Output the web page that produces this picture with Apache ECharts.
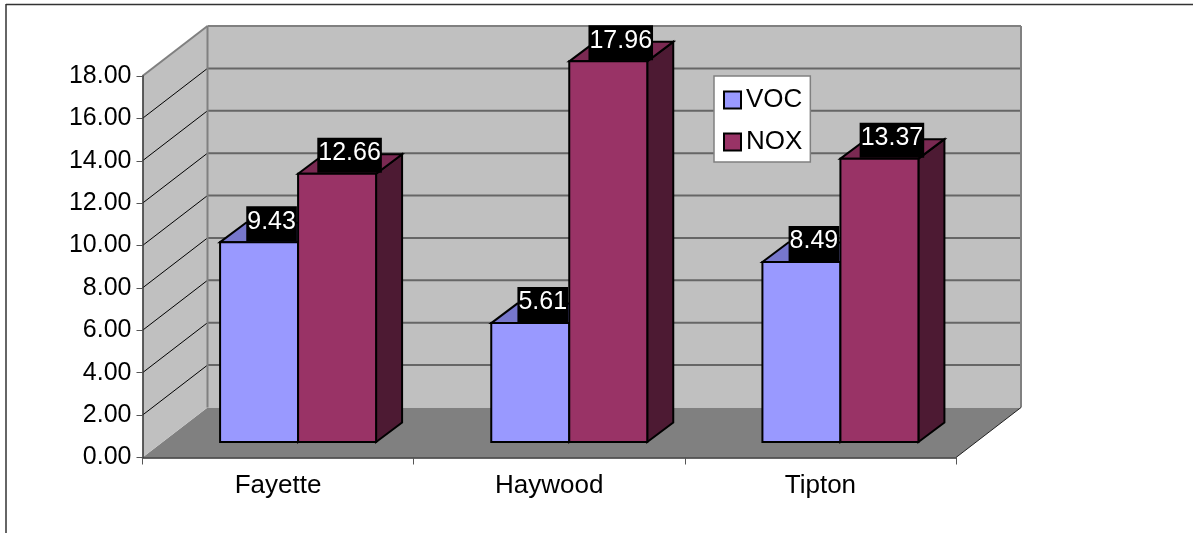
<!DOCTYPE html>
<html>
<head>
<meta charset="utf-8">
<style>html,body{margin:0;padding:0;background:#fff}#chart{width:1193px;height:533px}</style>
<script src="https://cdn.jsdelivr.net/npm/echarts@6/dist/echarts.min.js"></script>
</head>
<body>
<div id="chart"></div>
<script>
// Emissions by county, drawn as a pseudo-3D clustered column chart
var counties = ['Fayette', 'Haywood', 'Tipton'];
var vocValues = [9.43, 5.61, 8.49];
var noxValues = [12.66, 17.96, 13.37];
var yTicks = [0, 2, 4, 6, 8, 10, 12, 14, 16, 18];

var FONT = '"Liberation Sans", Arial, sans-serif';
var WALL_DX = 65, WALL_DY = -50;     // projection of the back wall
var BAR_DX = 20, BAR_DY = -15.5;     // front plane of the columns
var DEPTH_DX = 26, DEPTH_DY = -19.5; // column depth
var BAR_WIDTH = 78;

function poly(points, fill, stroke, lw) {
  return {
    type: 'polygon',
    shape: { points: points },
    style: { fill: fill, stroke: stroke || null, lineWidth: lw || 0, lineJoin: 'miter' }
  };
}
function line(a, b, stroke, lw) {
  return {
    type: 'line',
    shape: { x1: a[0], y1: a[1], x2: b[0], y2: b[1] },
    style: { stroke: stroke, lineWidth: lw }
  };
}

// Side wall, back wall, floor and their gridlines
function renderWalls(params, api) {
  var n = counties.length;
  var y0 = api.coord([0, 0])[1];
  var yMax = api.coord([0, yTicks[yTicks.length - 1]])[1];
  var size = api.size([1, 0]);
  var xL = api.coord([0, 0])[0] - size[0] / 2;
  var xR = xL + size[0] * n;
  var children = [];
  children.push(poly([[xL, y0], [xL + WALL_DX, y0 + WALL_DY], [xR + WALL_DX, y0 + WALL_DY], [xR, y0]], '#808080'));
  children.push(poly([[xL, yMax], [xL + WALL_DX, yMax + WALL_DY], [xL + WALL_DX, y0 + WALL_DY], [xL, y0]], '#C0C0C0'));
  children.push(poly([[xL + WALL_DX, yMax + WALL_DY], [xR + WALL_DX, yMax + WALL_DY], [xR + WALL_DX, y0 + WALL_DY], [xL + WALL_DX, y0 + WALL_DY]], '#C0C0C0'));
  yTicks.forEach(function (t) {
    if (t === 0 || t === yTicks[yTicks.length - 1]) return;
    var y = api.coord([0, t])[1];
    children.push(line([xL, y], [xL + WALL_DX, y + WALL_DY], '#000', 1));
    children.push(line([xL + WALL_DX, y + WALL_DY], [xR + WALL_DX, y + WALL_DY], '#666', 2));
  });
  children.push(line([xL, yMax], [xL + WALL_DX, yMax + WALL_DY], '#808080', 2));
  children.push(line([xL + WALL_DX, yMax + WALL_DY], [xR + WALL_DX, yMax + WALL_DY], '#808080', 2));
  children.push(line([xL + WALL_DX, yMax + WALL_DY], [xL + WALL_DX, y0 + WALL_DY], '#808080', 2));
  children.push(line([xR + WALL_DX, yMax + WALL_DY], [xR + WALL_DX, y0 + WALL_DY], '#808080', 2));
  children.push(line([xR, y0], [xR + WALL_DX, y0 + WALL_DY], '#222', 1));
  return { type: 'group', children: children };
}

// One extruded column; side is -1 for the left column of a pair and 0 for the right one
function columnRenderer(side, front, top, shade) {
  return function (params, api) {
    var base = api.coord([api.value(0), 0]);
    var head = api.coord([api.value(0), api.value(1)]);
    var x0 = base[0] + BAR_DX + side * BAR_WIDTH;
    var x1 = x0 + BAR_WIDTH;
    var yb = base[1] + BAR_DY;
    var yt = head[1] + BAR_DY;
    var edge = { stroke: '#000', lw: 2 };
    return {
      type: 'group',
      children: [
        poly([[x1, yb], [x1 + DEPTH_DX, yb + DEPTH_DY], [x1 + DEPTH_DX, yt + DEPTH_DY], [x1, yt]], shade, edge.stroke, edge.lw),
        poly([[x0, yt], [x0 + DEPTH_DX, yt + DEPTH_DY], [x1 + DEPTH_DX, yt + DEPTH_DY], [x1, yt]], top, edge.stroke, edge.lw),
        poly([[x0, yb], [x1, yb], [x1, yt], [x0, yt]], front, edge.stroke, edge.lw)
      ]
    };
  };
}

// White-on-black value tag sitting on the column top
function tagRenderer(side) {
  return function (params, api) {
    var base = api.coord([api.value(0), 0]);
    var head = api.coord([api.value(0), api.value(1)]);
    return {
      type: 'text',
      style: {
        x: base[0] + BAR_DX + (side + 0.5) * BAR_WIDTH + 12.5,
        y: head[1] + BAR_DY - 1,
        text: api.value(1).toFixed(2),
        font: '25px ' + FONT,
        fill: '#fff',
        align: 'center',
        verticalAlign: 'bottom',
        backgroundColor: '#000',
        padding: [3, 1, 7, 1]
      }
    };
  };
}

function pairs(values) {
  return values.map(function (v, i) { return [i, v]; });
}

var chart = echarts.init(document.getElementById('chart'), null, { renderer: 'canvas' });
chart.setOption({
  animation: false,
  backgroundColor: '#fff',
  grid: { left: 142.5, top: 76, width: 813.5, height: 381.5 },
  xAxis: {
    type: 'category',
    data: counties,
    z: 3,
    axisLine: { lineStyle: { color: '#333', width: 1.5 } },
    axisTick: { show: true, length: 7, alignWithLabel: false, lineStyle: { color: '#555', width: 1 } },
    axisLabel: { color: '#000', fontFamily: FONT, fontSize: 26, margin: 15 }
  },
  yAxis: {
    type: 'value',
    min: 0,
    max: 18,
    interval: 2,
    z: 3,
    splitLine: { show: false },
    axisLine: { show: true, lineStyle: { color: '#333', width: 1.5 } },
    axisTick: { show: true, length: 6, lineStyle: { color: '#555', width: 1 } },
    axisLabel: {
      color: '#000', fontFamily: FONT, fontSize: 25, margin: 11,
      formatter: function (v) { return v.toFixed(2); }
    }
  },
  legend: {
    orient: 'vertical',
    left: 714,
    top: 76,
    padding: [5, 8, 1, 9],
    itemGap: 4,
    itemWidth: 17,
    itemHeight: 17,
    icon: 'rect',
    backgroundColor: '#fff',
    borderColor: '#808080',
    borderWidth: 1.5,
    selectedMode: false,
    textStyle: { color: '#000', fontFamily: FONT, fontSize: 26, padding: [0, 0, 12, 0], lineHeight: 26 },
    data: [
      { name: 'VOC', itemStyle: { color: '#9999FF', borderColor: '#000', borderWidth: 2 } },
      { name: 'NOX', itemStyle: { color: '#993366', borderColor: '#000', borderWidth: 2 } }
    ]
  },
  graphic: [
    { type: 'line', silent: true, shape: { x1: 6, y1: 4.5, x2: 1193, y2: 4.5 }, style: { stroke: '#333', lineWidth: 1.5 } },
    { type: 'line', silent: true, shape: { x1: 6, y1: 4, x2: 6, y2: 533 }, style: { stroke: '#333', lineWidth: 1.5 } }
  ],
  series: [
    { type: 'custom', name: 'walls', z: 1, silent: true, renderItem: renderWalls, data: [[0, 0]], encode: { x: 0, y: 1 } },
    { type: 'custom', name: 'VOC', z: 4, silent: true, itemStyle: { color: '#9999FF' },
      renderItem: columnRenderer(-1, '#9999FF', '#7777CC', '#4D4D80'), data: pairs(vocValues), encode: { x: 0, y: 1 } },
    { type: 'custom', name: 'NOX', z: 5, silent: true, itemStyle: { color: '#993366' },
      renderItem: columnRenderer(0, '#993366', '#7A2952', '#4D1A33'), data: pairs(noxValues), encode: { x: 0, y: 1 } },
    { type: 'custom', name: 'VOC tags', z: 6, silent: true, renderItem: tagRenderer(-1), data: pairs(vocValues), encode: { x: 0, y: 1 } },
    { type: 'custom', name: 'NOX tags', z: 6, silent: true, renderItem: tagRenderer(0), data: pairs(noxValues), encode: { x: 0, y: 1 } }
  ]
});
</script>
</body>
</html>
